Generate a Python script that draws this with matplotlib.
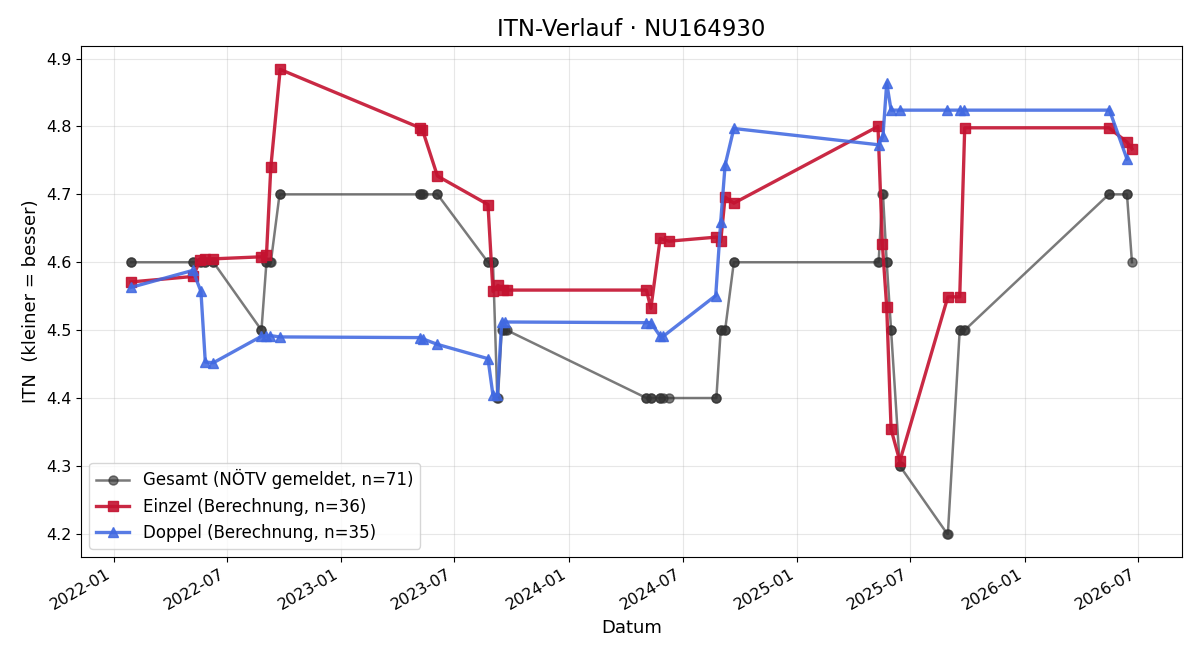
import matplotlib
matplotlib.use("Agg")
import matplotlib.pyplot as plt
import matplotlib.dates as mdates
import pandas as pd

gesamt_dates = [
    "2022-01-29", "2022-01-29", "2022-05-08", "2022-05-08", "2022-05-20", "2022-05-21",
    "2022-05-28", "2022-05-28", "2022-06-10", "2022-06-10", "2022-08-26", "2022-08-26",
    "2022-09-03", "2022-09-03", "2022-09-09", "2022-09-10", "2022-09-24", "2022-09-25",
    "2023-05-07", "2023-05-07", "2023-05-11", "2023-05-12", "2023-06-04", "2023-06-04",
    "2023-08-24", "2023-08-24", "2023-09-01", "2023-09-01", "2023-09-08", "2023-09-09",
    "2023-09-15", "2023-09-17", "2023-09-20", "2023-09-23",
    "2024-05-04", "2024-05-04", "2024-05-11", "2024-05-11", "2024-05-26", "2024-05-26",
    "2024-05-31", "2024-06-09", "2024-08-23", "2024-08-24", "2024-08-31", "2024-08-31",
    "2024-09-07", "2024-09-07", "2024-09-21", "2024-09-21",
    "2025-05-10", "2025-05-11", "2025-05-17", "2025-05-18", "2025-05-24", "2025-05-24",
    "2025-05-31", "2025-05-31", "2025-06-14", "2025-06-14", "2025-08-29", "2025-08-30",
    "2025-09-18", "2025-09-18", "2025-09-25", "2025-09-26",
    "2026-05-15", "2026-05-16", "2026-06-13", "2026-06-13", "2026-06-21",
]
gesamt_values = [
    4.6, 4.6, 4.6, 4.6, 4.6, 4.6,
    4.6, 4.6, 4.6, 4.6, 4.5, 4.5,
    4.6, 4.6, 4.6, 4.6, 4.7, 4.7,
    4.7, 4.7, 4.7, 4.7, 4.7, 4.7,
    4.6, 4.6, 4.6, 4.6, 4.4, 4.4,
    4.5, 4.5, 4.5, 4.5,
    4.4, 4.4, 4.4, 4.4, 4.4, 4.4,
    4.4, 4.4, 4.4, 4.4, 4.5, 4.5,
    4.5, 4.5, 4.6, 4.6,
    4.6, 4.6, 4.7, 4.7, 4.6, 4.6,
    4.5, 4.5, 4.3, 4.3, 4.2, 4.2,
    4.5, 4.5, 4.5, 4.5,
    4.7, 4.7, 4.7, 4.7, 4.6,
]

einzel_dates = [
    "2022-01-29", "2022-05-08", "2022-05-20", "2022-05-28", "2022-06-10", "2022-08-26",
    "2022-09-03", "2022-09-10", "2022-09-25",
    "2023-05-07", "2023-05-11", "2023-06-04", "2023-08-24", "2023-09-01", "2023-09-09",
    "2023-09-17", "2023-09-23",
    "2024-05-04", "2024-05-11", "2024-05-26", "2024-06-09", "2024-08-24", "2024-08-31",
    "2024-09-07", "2024-09-21",
    "2025-05-10", "2025-05-17", "2025-05-24", "2025-05-31", "2025-06-14", "2025-08-30",
    "2025-09-18", "2025-09-26",
    "2026-05-15", "2026-06-13", "2026-06-21",
]
einzel_values = [
    4.571, 4.579, 4.603, 4.605, 4.605, 4.608,
    4.610, 4.740, 4.884,
    4.798, 4.795, 4.727, 4.685, 4.557, 4.566,
    4.559, 4.559,
    4.559, 4.532, 4.635, 4.631, 4.637, 4.631,
    4.696, 4.687,
    4.800, 4.627, 4.534, 4.354, 4.307, 4.549,
    4.549, 4.798,
    4.798, 4.777, 4.767,
]

doppel_dates = [
    "2022-01-29", "2022-05-08", "2022-05-21", "2022-05-28", "2022-06-10", "2022-08-26",
    "2022-09-03", "2022-09-09", "2022-09-24",
    "2023-05-07", "2023-05-12", "2023-06-04", "2023-08-24", "2023-09-01", "2023-09-08",
    "2023-09-15", "2023-09-20",
    "2024-05-04", "2024-05-11", "2024-05-26", "2024-05-31", "2024-08-23", "2024-08-31",
    "2024-09-07", "2024-09-21",
    "2025-05-11", "2025-05-18", "2025-05-24", "2025-05-31", "2025-06-14", "2025-08-29",
    "2025-09-18", "2025-09-25",
    "2026-05-16", "2026-06-13",
]
doppel_values = [
    4.563, 4.588, 4.557, 4.453, 4.452, 4.491,
    4.491, 4.492, 4.490,
    4.489, 4.487, 4.479, 4.458, 4.404, 4.404,
    4.512, 4.512,
    4.511, 4.511, 4.491, 4.491, 4.551, 4.660,
    4.743, 4.797,
    4.773, 4.786, 4.864, 4.824, 4.824, 4.824,
    4.824, 4.824,
    4.824, 4.752,
]

fig, ax = plt.subplots(figsize=(12, 6.6), dpi=100)

ax.plot(pd.to_datetime(gesamt_dates), gesamt_values, marker="o", markersize=6.5,
        linewidth=1.8, color="#333333", alpha=0.65,
        label=f"Gesamt (NÖTV gemeldet, n={len(gesamt_values)})")
ax.plot(pd.to_datetime(einzel_dates), einzel_values, marker="s", markersize=7.5,
        linewidth=2.4, color="#c41230", alpha=0.9,
        label=f"Einzel (Berechnung, n={len(einzel_values)})")
ax.plot(pd.to_datetime(doppel_dates), doppel_values, marker="^", markersize=7.5,
        linewidth=2.4, color="#4169E1", alpha=0.88,
        label=f"Doppel (Berechnung, n={len(doppel_values)})")

ax.set_title("ITN-Verlauf · NU164930", fontsize=16.5, pad=7)
ax.set_xlabel("Datum", fontsize=13)
ax.set_ylabel("ITN  (kleiner = besser)", fontsize=13)
ax.grid(True, alpha=0.3)
ax.xaxis.set_major_locator(mdates.MonthLocator(bymonth=[1, 7]))
ax.xaxis.set_major_formatter(mdates.DateFormatter("%Y-%m"))
ax.tick_params(labelsize=11.5)
for lbl in ax.get_xticklabels():
    lbl.set_rotation(30)
    lbl.set_ha("right")
ax.legend(loc="lower left", fontsize=12)

fig.subplots_adjust(left=0.0675, right=0.985, top=0.930, bottom=0.156)
fig.savefig("out.png", dpi=100)
